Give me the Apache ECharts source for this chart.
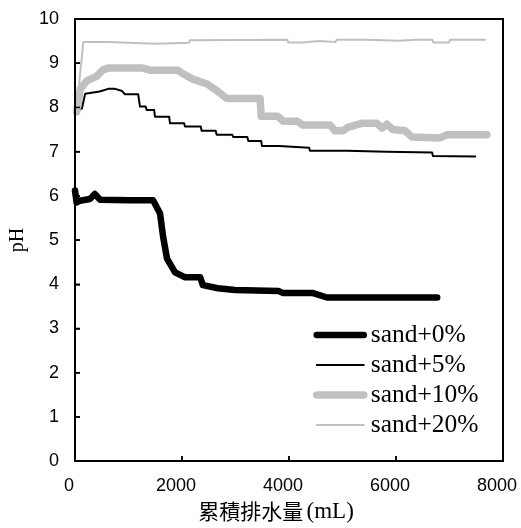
<!DOCTYPE html>
<html>
  <head>
    <meta charset="UTF-8" />
    <style>
      html, body { margin: 0; padding: 0; background: #fff; }
      #main { width: 521px; height: 528px; }
    </style>
  </head>
  <body>
    <div id="main"></div>
    <script src="https://cdn.jsdelivr.net/npm/echarts@6/dist/echarts.min.js"></script>
    <script>
      // 資料
      var seriesNames = ["sand+0%", "sand+5%", "sand+10%", "sand+20%"];
      var xTicks = [0, 2000, 4000, 6000, 8000];
      var yTicks = [0, 1, 2, 3, 4, 5, 6, 7, 8, 9, 10];

      var sand0Vol = [0, 30, 90, 280, 370, 470, 1000, 1460, 1590, 1645, 1720, 1870, 2050, 2340, 2390, 2670, 2990, 3800, 3890, 4450, 4710, 6770];
      var sand0PH = [6.12, 5.85, 5.89, 5.93, 6.04, 5.91, 5.9, 5.9, 5.6, 5.09, 4.58, 4.27, 4.16, 4.16, 3.98, 3.91, 3.87, 3.85, 3.8, 3.8, 3.7, 3.7];

      var sand5Vol = [20, 130, 190, 460, 620, 750, 880, 930, 1180, 1215, 1320, 1340, 1480, 1495, 1760, 1776, 2040, 2056, 2350, 2367, 2630, 2648, 2940, 2960, 3220, 3240, 3480, 3495, 3815, 3831, 4375, 4392, 5085, 5103, 5815, 5831, 6675, 6691, 7480];
      var sand5PH = [7.91, 7.98, 8.31, 8.36, 8.42, 8.42, 8.37, 8.3, 8.3, 8.02, 8.02, 7.94, 7.94, 7.79, 7.79, 7.64, 7.64, 7.57, 7.57, 7.47, 7.47, 7.38, 7.38, 7.33, 7.33, 7.24, 7.24, 7.13, 7.13, 7.09, 7.09, 7.02, 7.02, 7.0, 7.0, 6.98, 6.98, 6.9, 6.89];

      var sand10Vol = [30, 100, 220, 410, 520, 620, 1270, 1400, 1925, 2020, 2200, 2470, 2650, 2840, 3460, 3480, 3790, 3890, 4150, 4260, 4770, 4860, 5010, 5100, 5360, 5640, 5740, 5830, 5940, 6170, 6300, 6820, 6950, 7700];
      var sand10PH = [7.9, 8.42, 8.6, 8.71, 8.85, 8.89, 8.89, 8.84, 8.84, 8.76, 8.64, 8.53, 8.38, 8.2, 8.2, 7.8, 7.8, 7.69, 7.69, 7.6, 7.6, 7.47, 7.47, 7.55, 7.64, 7.64, 7.53, 7.62, 7.5, 7.47, 7.33, 7.31, 7.38, 7.38];

      var sand20Vol = [30, 156, 610, 623, 1510, 1527, 2130, 2150, 3970, 3987, 4250, 4268, 4560, 4579, 4870, 4891, 5465, 5483, 6060, 6075, 6370, 6386, 6680, 6697, 6990, 7009, 7663];
      var sand20PH = [7.98, 9.48, 9.48, 9.44, 9.44, 9.46, 9.46, 9.52, 9.53, 9.47, 9.47, 9.5, 9.5, 9.48, 9.48, 9.53, 9.53, 9.51, 9.51, 9.53, 9.53, 9.53, 9.53, 9.47, 9.47, 9.53, 9.53];

      function pairs(xs, ys) {
        return xs.map(function (x, i) {
          return [x, ys[i]];
        });
      }

      var styles = [
        { color: "#000000", width: 6.5 },
        { color: "#000000", width: 2 },
        { color: "#c0c0c0", width: 7.5 },
        { color: "#c0c0c0", width: 2 },
      ];
      var datas = [
        pairs(sand0Vol, sand0PH),
        pairs(sand5Vol, sand5PH),
        pairs(sand10Vol, sand10PH),
        pairs(sand20Vol, sand20PH),
      ];

      var frameLine = { show: true, onZero: false, lineStyle: { color: "#000", width: 2 } };
      var tickStyle = { show: true, inside: true, length: 5, lineStyle: { color: "#000", width: 1.5 } };

      var myChart = echarts.init(document.getElementById("main"), null, { renderer: "canvas" });
      myChart.setOption({
        animation: false,
        grid: { left: 75, right: 18, top: 19, bottom: 59 },
        legend: {
          orient: "vertical",
          left: 308,
          top: 317,
          itemWidth: 47,
          itemHeight: 14,
          itemGap: 4,
          textStyle: {
            fontFamily: "Liberation Serif",
            fontSize: 25.5,
            lineHeight: 25,
            color: "#000",
            padding: [0, 0, 0, 2],
          },
          data: seriesNames.map(function (n, i) {
            return {
              name: n,
              itemStyle: { opacity: 0 },
              lineStyle: { width: styles[i].width, color: styles[i].color, cap: "round" },
            };
          }),
        },
        xAxis: [
          {
            type: "value",
            min: 0,
            max: 8000,
            interval: 2000,
            name: "{cjk|累積排水量} {lat|(mL)}",
            nameLocation: "middle",
            nameGap: 36,
            nameTextStyle: {
              padding: [0, 26, 0, 0],
              rich: {
                cjk: { fontFamily: "Noto Sans CJK TC", fontSize: 21, color: "#000" },
                lat: { fontFamily: "Liberation Serif", fontSize: 23, color: "#000" },
              },
            },
            axisLine: frameLine,
            axisTick: tickStyle,
            axisLabel: {
              margin: 16,
              padding: [0, 12, 0, 0],
              fontFamily: "Liberation Sans",
              fontSize: 18,
              color: "#000",
              formatter: function (v) {
                return xTicks.indexOf(v) >= 0 ? String(v) : "";
              },
            },
            splitLine: { show: false },
          },
          {
            // 上框線
            type: "value",
            position: "top",
            min: 0,
            max: 8000,
            axisLine: frameLine,
            axisTick: { show: false },
            axisLabel: { show: false },
            splitLine: { show: false },
          },
        ],
        yAxis: [
          {
            type: "value",
            min: 0,
            max: 10,
            interval: 1,
            name: "pH",
            nameLocation: "middle",
            nameRotate: 90,
            nameGap: 40,
            nameTextStyle: { fontFamily: "Liberation Serif", fontSize: 20, color: "#000" },
            axisLine: frameLine,
            axisTick: tickStyle,
            axisLabel: {
              margin: 16,
              fontFamily: "Liberation Sans",
              fontSize: 18,
              color: "#000",
              formatter: function (v) {
                return yTicks.indexOf(v) >= 0 ? String(v) : "";
              },
            },
            splitLine: { show: false },
          },
          {
            // 右框線
            type: "value",
            position: "right",
            min: 0,
            max: 10,
            axisLine: frameLine,
            axisTick: { show: false },
            axisLabel: { show: false },
            splitLine: { show: false },
          },
        ],
        series: seriesNames.map(function (n, i) {
          return {
            name: n,
            type: "line",
            data: datas[i],
            showSymbol: false,
            symbol: "none",
            lineStyle: {
              color: styles[i].color,
              width: styles[i].width,
              cap: "round",
              join: "round",
            },
            itemStyle: { color: styles[i].color },
          };
        }),
      });

      // 框線與刻度 (以座標軸換算位置，確保一定畫出)
      var toPx = function (x, y) {
        return myChart.convertToPixel({ xAxisIndex: 0, yAxisIndex: 0 }, [x, y]);
      };
      var p0 = toPx(0, 0);
      var p1 = toPx(8000, 10);
      var L = p0[0], B = p0[1], R = p1[0], T = p1[1];
      var bar = function (x, y, w, h) {
        return { type: "rect", z: 50, silent: true, shape: { x: x, y: y, width: w, height: h }, style: { fill: "#000" } };
      };
      var g = [
        bar(L - 1, T - 1, R - L + 2, 2),
        bar(L - 1, B - 1, R - L + 2, 2),
        bar(L - 1, T - 1, 2, B - T + 2),
        bar(R - 1, T - 1, 2, B - T + 2),
      ];
      xTicks.forEach(function (v) {
        var px = toPx(v, 0)[0];
        g.push(bar(px - 0.75, B - 5, 1.5, 5));
      });
      yTicks.forEach(function (v) {
        var py = toPx(0, v)[1];
        g.push(bar(L, py - 0.75, 5, 1.5));
      });
      myChart.setOption({ graphic: g });
    </script>
  </body>
</html>
